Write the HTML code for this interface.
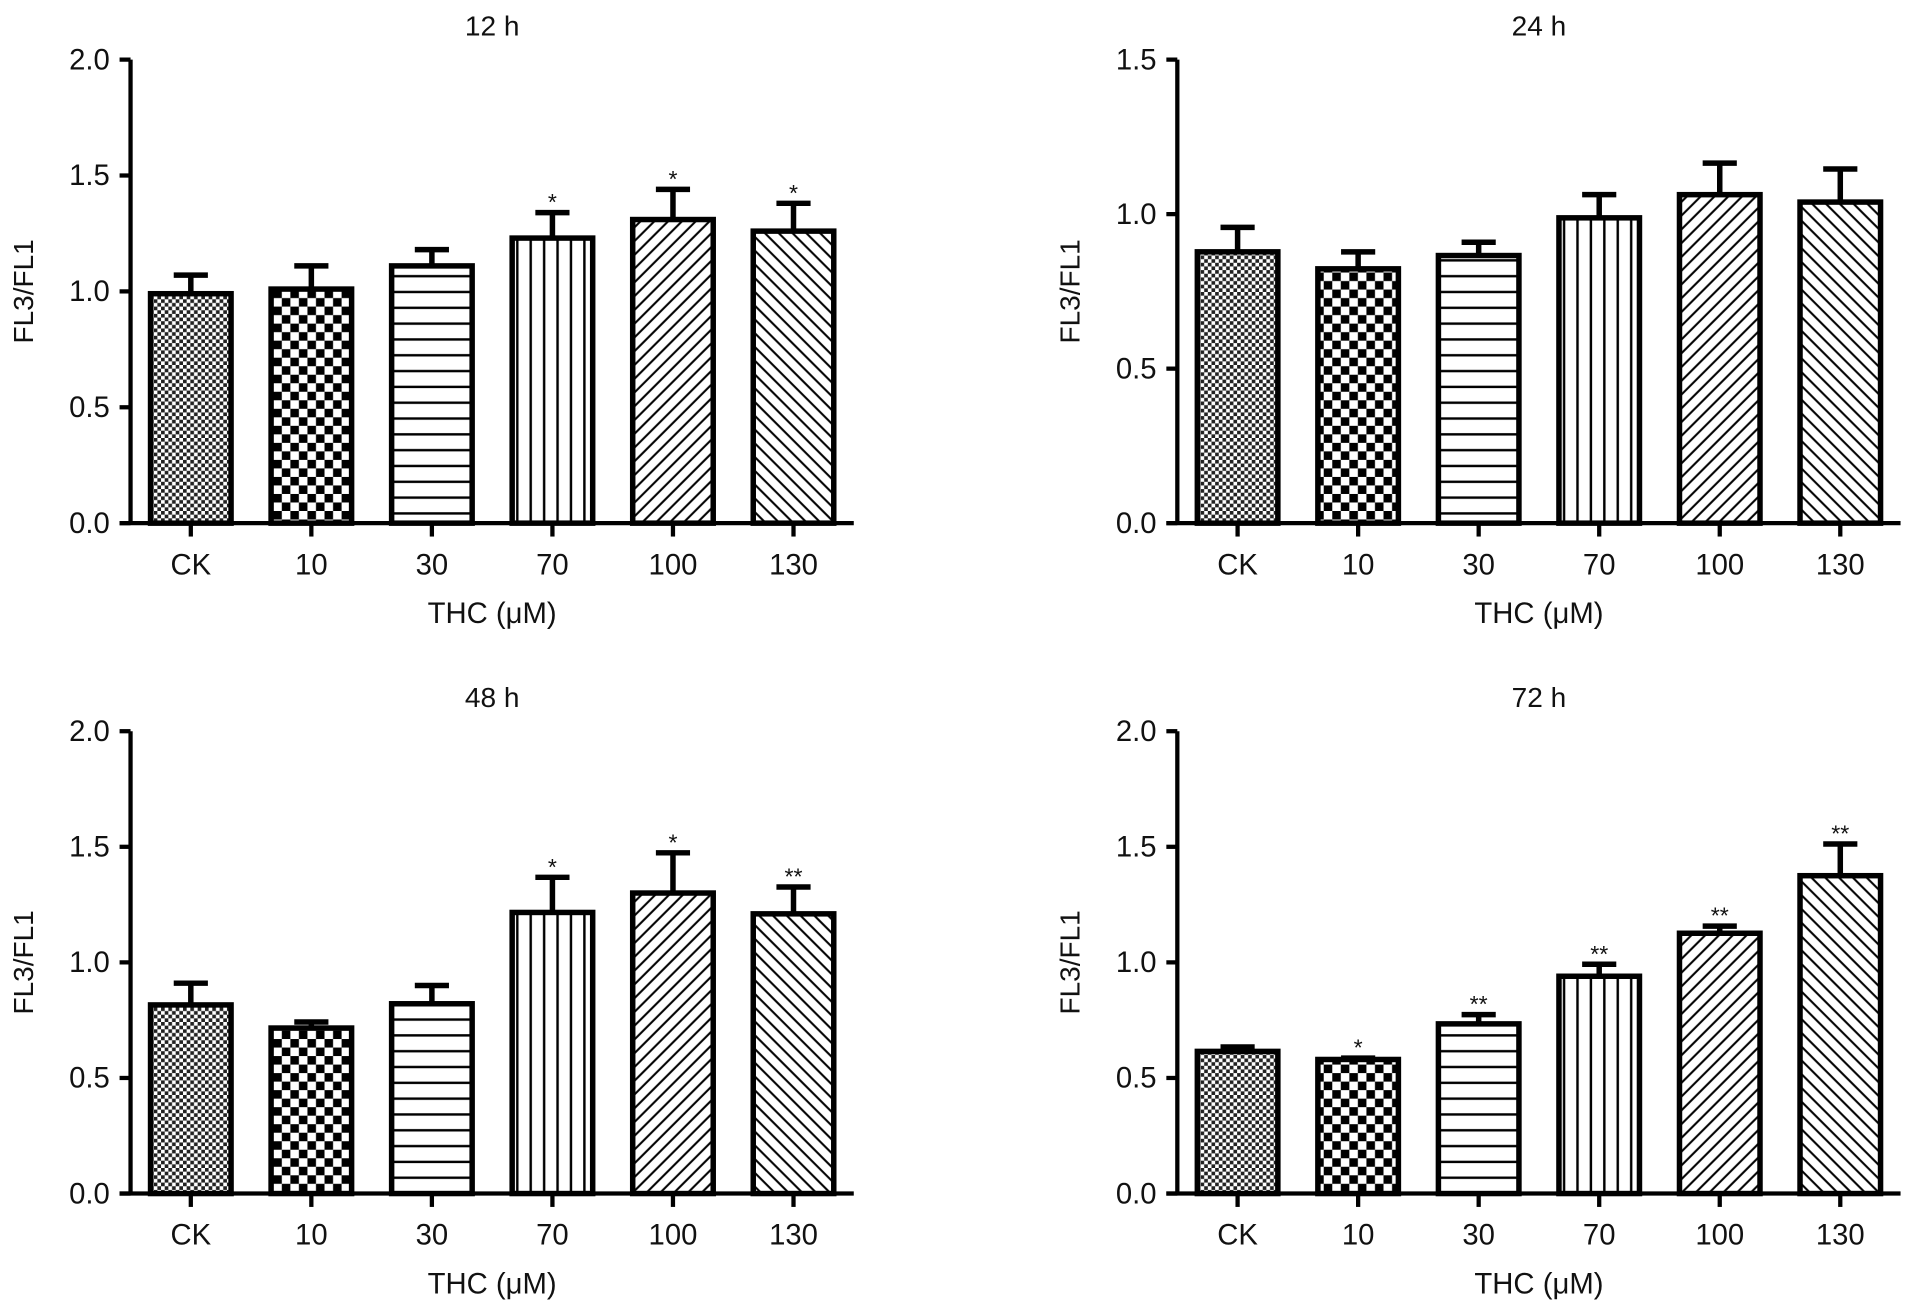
<!DOCTYPE html>
<html><head><meta charset="utf-8"><style>
html,body{margin:0;padding:0;background:#fff;}
svg{display:block;}
text{font-family:"Liberation Sans",Arial,sans-serif;fill:#111;}
</style></head><body>
<svg id="chart" width="1913" height="1314" viewBox="0 0 1568 1080" preserveAspectRatio="none" xmlns="http://www.w3.org/2000/svg">
<defs>
<pattern id="p0" patternUnits="userSpaceOnUse" width="6" height="6"><rect width="6" height="6" fill="#fff"/><rect width="3" height="3" fill="#222"/><rect x="3" y="3" width="3" height="3" fill="#222"/></pattern>
<pattern id="p1" patternUnits="userSpaceOnUse" width="14" height="14"><rect width="14" height="14" fill="#fff"/><rect width="7" height="7" fill="#000"/><rect x="7" y="7" width="7" height="7" fill="#000"/></pattern>
<pattern id="p2" patternUnits="userSpaceOnUse" width="13" height="13"><rect width="13" height="13" fill="#fff"/><rect y="5" width="13" height="2" fill="#000"/></pattern>
<pattern id="p3" patternUnits="userSpaceOnUse" width="11" height="11"><rect width="11" height="11" fill="#fff"/><rect x="5" width="2" height="11" fill="#000"/></pattern>
<pattern id="p4" patternUnits="userSpaceOnUse" width="8" height="8" patternTransform="rotate(45)"><rect width="8" height="8" fill="#fff"/><rect x="3" width="1.7" height="8" fill="#000"/></pattern>
<pattern id="p5" patternUnits="userSpaceOnUse" width="8" height="8" patternTransform="rotate(-45)"><rect width="8" height="8" fill="#fff"/><rect x="3" width="1.7" height="8" fill="#000"/></pattern>
</defs>
</svg>
<script>
const categories = ["CK","10","30","70","100","130"];
const titles = ["12 h","24 h","48 h","72 h"];
const yMaxes = [2.0, 1.5, 2.0, 2.0];
const yTicks12 = ["0.0","0.5","1.0","1.5","2.0"];
const yTicks24 = ["0.0","0.5","1.0","1.5"];
const means12 = [0.99,1.01,1.11,1.23,1.31,1.26];
const errs12 = [0.08,0.10,0.07,0.11,0.13,0.12];
const stars12 = ["","","","*","*","*"];
const means24 = [0.878,0.823,0.866,0.988,1.063,1.039];
const errs24 = [0.079,0.055,0.043,0.075,0.102,0.107];
const stars24 = ["","","","","",""];
const means48 = [0.816,0.716,0.821,1.216,1.30,1.21];
const errs48 = [0.094,0.026,0.079,0.152,0.174,0.116];
const stars48 = ["","","","*","*","**"];
const means72 = [0.615,0.58,0.734,0.94,1.126,1.375];
const errs72 = [0.019,0.006,0.04,0.052,0.031,0.137];
const stars72 = ["","*","**","**","**","**"];

const svg = document.getElementById('chart');
const NS = 'http://www.w3.org/2000/svg';
function mk(tag, attrs, parent){const e=document.createElementNS(NS,tag);for(const k in attrs)e.setAttribute(k,attrs[k]);(parent||svg).appendChild(e);return e;}

const panels = [
 {x0:107,y0:430,yTop:49,means:means12,errs:errs12,stars:stars12,ticks:yTicks12,ymax:yMaxes[0],title:titles[0],name:'panel-12h'},
 {x0:965,y0:430,yTop:49,means:means24,errs:errs24,stars:stars24,ticks:yTicks24,ymax:yMaxes[1],title:titles[1],name:'panel-24h'},
 {x0:107,y0:981,yTop:601,means:means48,errs:errs48,stars:stars48,ticks:yTicks12,ymax:yMaxes[2],title:titles[2],name:'panel-48h'},
 {x0:965,y0:981,yTop:601,means:means72,errs:errs72,stars:stars72,ticks:yTicks12,ymax:yMaxes[3],title:titles[3],name:'panel-72h'}
];
const band = 98.8, barW = 66;

panels.forEach(p=>{
  const g = mk('g',{});
  
  
  const yS = v => p.y0 - v/p.ymax*(p.y0-p.yTop);
  const xS = i => p.x0 + band*(i+0.5);
  const xEnd = p.x0 + band*categories.length;
  const t = mk('text',{x:p.x0+band*3,y:p.yTop-20,'text-anchor':'middle','font-size':23},g);
  t.textContent = p.title;
  
  
  const yl = mk('text',{x:0,y:0,'text-anchor':'middle','font-size':23,transform:`translate(${p.x0-80},${(p.y0+p.yTop)/2}) rotate(-90)`},g);
  yl.textContent = 'FL3/FL1';
  
  
  p.means.forEach((v,i)=>{
    const cx = xS(i);
    const top = yS(v), eTop = yS(v+p.errs[i]);
    const el = mk('line',{x1:cx,x2:cx,y1:top,y2:eTop,stroke:'#000','stroke-width':4.5},g);
    
    
    const cap = mk('line',{x1:cx-14,x2:cx+14,y1:eTop,y2:eTop,stroke:'#000','stroke-width':4.5},g);
    
    
    const r = mk('rect',{x:cx-barW/2,y:top,width:barW,height:p.y0-top,fill:`url(#p${i})`,stroke:'#000','stroke-width':4.5},g);
    
    
    if(p.stars[i]){
      const s = mk('text',{x:cx,y:eTop-2,'text-anchor':'middle','font-size':19},g);
      s.textContent = p.stars[i];
      
      
    }
    const tk = mk('line',{x1:cx,x2:cx,y1:p.y0,y2:p.y0+11,stroke:'#000','stroke-width':3.5},g);
    
    
    const tl = mk('text',{x:cx,y:p.y0+42,'text-anchor':'middle','font-size':24},g);
    tl.textContent = categories[i];
    
    
  });
  const ya = mk('line',{x1:p.x0,x2:p.x0,y1:p.yTop,y2:p.y0,stroke:'#000','stroke-width':3.5},g);
  
  
  const xa = mk('line',{x1:p.x0-9,x2:xEnd,y1:p.y0,y2:p.y0,stroke:'#000','stroke-width':3.5},g);
  
  
  p.ticks.forEach(lbl=>{
    const y = yS(parseFloat(lbl));
    const tk = mk('line',{x1:p.x0-9,x2:p.x0,y1:y,y2:y,stroke:'#000','stroke-width':3.5},g);
    
    
    const tl = mk('text',{x:p.x0-17,y:y+8,'text-anchor':'end','font-size':24},g);
    tl.textContent = lbl;
    
    
  });
  const xt = mk('text',{x:p.x0+band*3,y:p.y0+82,'text-anchor':'middle','font-size':24},g);
  xt.textContent = 'THC (\u03bcM)';
  
  
});
</script>
</body></html>
